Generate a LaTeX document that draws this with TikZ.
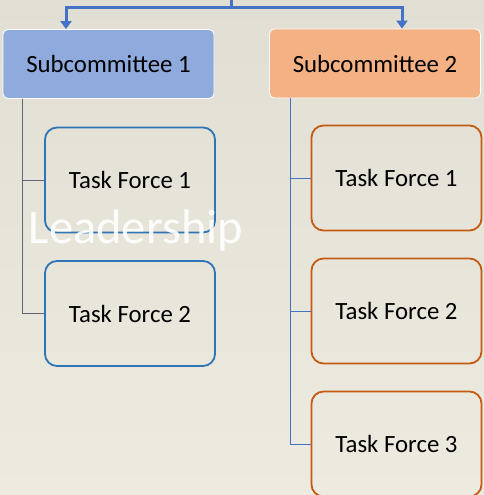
\documentclass[tikz,border=0pt]{standalone}
\usepackage{fontspec}
\setmainfont{Carlito}
\usepackage{xcolor}
\usetikzlibrary{arrows.meta}

\definecolor{paperTop}{RGB}{225,222,211}
\definecolor{paperBot}{RGB}{237,234,224}
\definecolor{subOne}{RGB}{143,170,220}
\definecolor{subTwo}{RGB}{244,177,131}
\definecolor{treeBlue}{RGB}{68,114,196}
\definecolor{tfBlue}{RGB}{46,117,182}
\definecolor{tfOrange}{RGB}{197,90,17}
\definecolor{linkGray}{RGB}{95,102,122}

\tikzset{
  subbox/.style={draw=white, line width=0.8pt, rounded corners=5pt,
    minimum width=211pt, minimum height=69pt, inner sep=0pt,
    font=\fontsize{24.8}{28}\selectfont},
  taskbox/.style={line width=1.8pt, rounded corners=12pt,
    minimum width=170pt, minimum height=105pt, inner sep=0pt,
    font=\fontsize{24.8}{28}\selectfont},
  tree/.style={treeBlue, line width=3pt, -{Triangle[width=11pt,length=8pt]}},
  link/.style={line width=1pt}
}

\begin{document}
\begin{tikzpicture}[x=1pt, y=-1pt]
    \useasboundingbox (0,0) rectangle (484,495);
    \clip (0,0) rectangle (484,495);
    \shade[top color=paperTop, bottom color=paperBot] (0,0) rectangle (484,495);

    % subcommittees
    \node[subbox, fill=subOne] (s1) at (108.5,64) {Subcommittee 1};
    \node[subbox, fill=subTwo] (s2) at (375,63.5) {Subcommittee 2};

    % task forces
    \node[taskbox, draw=tfBlue] (a1) at (130,180) {Task Force 1};
    \node[taskbox, draw=tfBlue] (a2) at (130,313.5) {Task Force 2};

    \node[taskbox, draw=tfOrange] (b1) at (396.5,178) {Task Force 1};
    \node[taskbox, draw=tfOrange] (b2) at (396.5,311) {Task Force 2};
    \node[taskbox, draw=tfOrange] (b3) at (396.5,444) {Task Force 3};

    % links from the top
    \coordinate (lead) at (231,-2);
    \draw[tree] (lead) -- (231,8) -| ([xshift=-42.5pt]s1.north);
    \draw[tree] (lead) -- (231,8) -| ([xshift=27pt]s2.north);

    \draw[link, linkGray] ([xshift=20pt]s1.south west) |- (a1.west);
    \draw[link, linkGray] ([xshift=20pt]s1.south west) |- (a2.west);

    \draw[link, treeBlue] ([xshift=21pt]s2.south west) |- (b1.west);
    \draw[link, treeBlue] ([xshift=21pt]s2.south west) |- (b2.west);
    \draw[link, treeBlue] ([xshift=21pt]s2.south west) |- (b3.west);

    \node[text=white, opacity=0.9, font=\fontsize{48.5}{52}\selectfont] (lbl) at (136,231) {Leadership};
\end{tikzpicture}
\end{document}
